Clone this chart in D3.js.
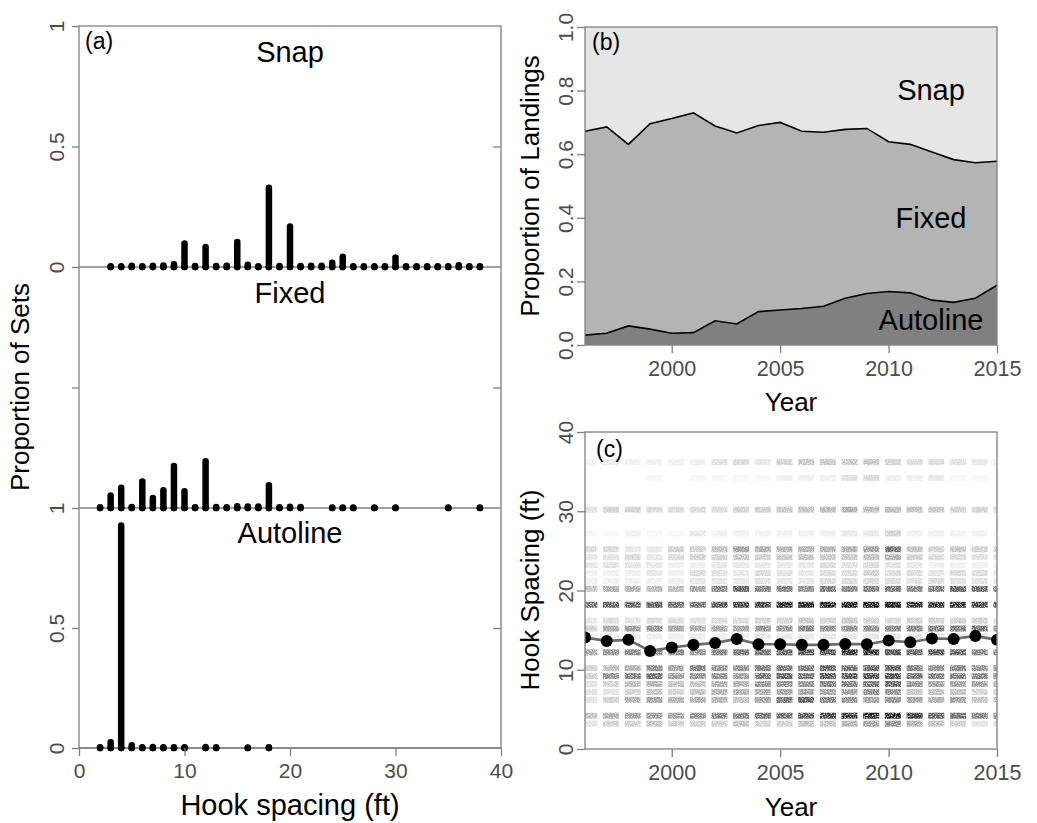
<!DOCTYPE html>
<html><head><meta charset="utf-8">
<script src="https://cdn.jsdelivr.net/npm/d3@7"></script>
<style>
body{margin:0;background:#fff}
svg{display:block;font-family:"Liberation Sans",Arial,Helvetica,sans-serif}
</style>
</head><body>
<svg id="chart" width="1037" height="823"></svg>
<script>
// ---------------- DATA ----------------
// Panel (a): proportion of sets by hook spacing (ft)
const snapSpacing = [3,4,5,6,7,8,9,10,11,12,13,14,15,16,17,18,19,20,21,22,23,24,25,26,27,28,29,30,31,32,33,34,35,36,37,38];
const snapProp    = [0.003,0.003,0.005,0.003,0.005,0.006,0.011,0.098,0.004,0.083,0.004,0.005,0.104,0.009,0.003,0.329,0.004,0.168,0.004,0.005,0.005,0.018,0.043,0.003,0.003,0.003,0.003,0.039,0.003,0.003,0.003,0.003,0.003,0.007,0.003,0.003];
const fixedSpacing = [2,3,4,5,6,7,8,9,10,11,12,13,14,15,16,17,18,19,20,21,24,25,26,28,30,35,38];
const fixedProp    = [0.003,0.052,0.084,0.004,0.110,0.041,0.074,0.174,0.070,0.003,0.194,0.004,0.003,0.007,0.006,0.006,0.094,0.003,0.005,0.004,0.002,0.002,0.002,0.002,0.002,0.002,0.002];
const autoSpacing = [2,3,4,5,6,7,8,9,10,12,13,16,18];
const autoProp    = [0.003,0.024,0.927,0.011,0.003,0.004,0.003,0.003,0.003,0.004,0.003,0.002,0.003];

// Panel (b): proportion of landings by gear type
const years = [1996,1997,1998,1999,2000,2001,2002,2003,2004,2005,2006,2007,2008,2009,2010,2011,2012,2013,2014,2015];
const autolineShare = [0.031,0.037,0.060,0.050,0.037,0.039,0.076,0.066,0.105,0.110,0.115,0.122,0.147,0.162,0.168,0.164,0.141,0.134,0.147,0.188];
const fixedShare    = [0.641,0.649,0.571,0.646,0.675,0.691,0.613,0.601,0.585,0.590,0.557,0.547,0.531,0.519,0.471,0.467,0.466,0.449,0.426,0.390];
const snapShare     = [0.328,0.314,0.369,0.304,0.288,0.270,0.311,0.333,0.310,0.300,0.328,0.331,0.322,0.319,0.361,0.369,0.393,0.417,0.427,0.422];

// Panel (c): mean hook spacing by year, and density of sets (shade) per spacing row
const meanSpacing = [14.06,13.64,13.77,12.38,12.80,13.14,13.39,13.89,13.22,13.22,13.14,13.14,13.26,13.22,13.68,13.47,13.94,13.89,14.27,13.77];
const heatSpacing = [36,34,30,27,25,24,23,22,21,20,18,16,15,14,12,10,9,8,7,6,4,3];
const heatShade = [
 [0.04,0.07,0.05,0.05,0.05,0.05,0.10,0.12,0.08,0.15,0.18,0.18,0.18,0.18,0.15,0.12,0.12,0.10,0.08,0.05],
 [0.00,0.00,0.00,0.03,0.00,0.03,0.03,0.03,0.03,0.05,0.05,0.05,0.10,0.12,0.05,0.05,0.08,0.03,0.03,0.00],
 [0.10,0.15,0.15,0.12,0.12,0.12,0.12,0.15,0.15,0.18,0.20,0.22,0.25,0.22,0.22,0.20,0.18,0.15,0.15,0.12],
 [0.03,0.03,0.05,0.03,0.03,0.08,0.05,0.05,0.05,0.05,0.05,0.05,0.08,0.08,0.15,0.05,0.05,0.05,0.05,0.03],
 [0.12,0.12,0.08,0.08,0.15,0.15,0.20,0.30,0.25,0.25,0.25,0.25,0.25,0.30,0.45,0.20,0.15,0.18,0.15,0.15],
 [0.08,0.10,0.12,0.08,0.12,0.15,0.15,0.18,0.15,0.18,0.20,0.18,0.18,0.20,0.25,0.15,0.12,0.12,0.10,0.10],
 [0.08,0.10,0.10,0.08,0.05,0.05,0.08,0.08,0.08,0.08,0.08,0.12,0.10,0.12,0.10,0.08,0.05,0.05,0.05,0.05],
 [0.05,0.05,0.05,0.08,0.05,0.12,0.10,0.08,0.12,0.10,0.08,0.12,0.12,0.15,0.12,0.12,0.10,0.12,0.12,0.08],
 [0.05,0.05,0.05,0.05,0.05,0.08,0.08,0.08,0.10,0.08,0.08,0.12,0.12,0.12,0.12,0.10,0.12,0.10,0.10,0.08],
 [0.20,0.25,0.25,0.22,0.22,0.28,0.38,0.50,0.40,0.40,0.35,0.42,0.38,0.40,0.45,0.38,0.42,0.50,0.48,0.40],
 [0.45,0.50,0.50,0.50,0.45,0.45,0.55,0.60,0.60,0.70,0.68,0.70,0.72,0.72,0.72,0.65,0.65,0.65,0.60,0.50],
 [0.08,0.12,0.10,0.12,0.12,0.10,0.12,0.12,0.15,0.15,0.18,0.15,0.18,0.15,0.12,0.15,0.15,0.15,0.15,0.10],
 [0.15,0.28,0.32,0.35,0.28,0.28,0.28,0.30,0.35,0.35,0.38,0.35,0.35,0.35,0.38,0.38,0.42,0.42,0.45,0.30],
 [0.05,0.06,0.06,0.06,0.06,0.06,0.06,0.06,0.08,0.08,0.08,0.08,0.08,0.08,0.08,0.08,0.08,0.08,0.08,0.06],
 [0.28,0.35,0.38,0.38,0.38,0.35,0.40,0.45,0.45,0.50,0.55,0.55,0.65,0.65,0.55,0.50,0.55,0.50,0.40,0.35],
 [0.15,0.20,0.25,0.35,0.30,0.42,0.35,0.35,0.40,0.42,0.42,0.50,0.45,0.50,0.50,0.40,0.35,0.40,0.35,0.35],
 [0.15,0.35,0.40,0.45,0.30,0.35,0.35,0.30,0.45,0.50,0.45,0.55,0.55,0.55,0.55,0.45,0.40,0.40,0.40,0.35],
 [0.10,0.15,0.20,0.25,0.20,0.20,0.25,0.25,0.35,0.35,0.35,0.40,0.40,0.45,0.50,0.35,0.30,0.30,0.30,0.25],
 [0.10,0.10,0.15,0.20,0.15,0.20,0.25,0.25,0.25,0.30,0.30,0.30,0.30,0.35,0.35,0.20,0.20,0.20,0.15,0.15],
 [0.10,0.15,0.25,0.30,0.25,0.25,0.25,0.20,0.30,0.45,0.50,0.40,0.35,0.30,0.35,0.30,0.25,0.30,0.20,0.20],
 [0.20,0.25,0.30,0.32,0.30,0.35,0.40,0.40,0.45,0.45,0.50,0.60,0.65,0.70,0.72,0.60,0.50,0.45,0.40,0.35],
 [0.10,0.15,0.15,0.20,0.15,0.15,0.15,0.20,0.15,0.15,0.20,0.20,0.25,0.30,0.35,0.25,0.20,0.15,0.10,0.10]
];

// Tick labels
const hookTicks = [0,10,20,30,40];
const propTicksA = [0,0.5,1];
const yearTicks = [2000,2005,2010,2015];
const landTicks = [0,0.2,0.4,0.6,0.8,1.0];
const spacingTicks = [0,10,20,30,40];

// ---------------- DRAWING ----------------
const svg = d3.select("#chart");
const AXC = "#808080", TXC = "#4d4d4d";
const defs = svg.append("defs");

function styleAxis(g, fs){
  g.select(".domain").remove();
  g.selectAll(".tick line").attr("stroke", AXC).attr("stroke-width", 1.3);
  g.selectAll(".tick text").attr("fill", TXC).attr("font-size", fs).attr("font-family","Liberation Sans, Arial, sans-serif");
}
function rotateYLabels(g, off){
  g.selectAll(".tick text").attr("x", null).attr("dy", "0.36em")
   .attr("text-anchor", "middle").attr("transform", `translate(${off},0) rotate(-90)`);
}
function frame(x0,y0,x1,y1){
  svg.append("rect").attr("x",x0).attr("y",y0).attr("width",x1-x0).attr("height",y1-y0)
    .attr("fill","none").attr("stroke",AXC).attr("stroke-width",1.3);
}
function label(txt,x,y,fs,anchor,color,rot){
  const t = svg.append("text").attr("x",x).attr("y",y).attr("font-size",fs)
    .attr("text-anchor",anchor||"middle").attr("fill",color||"#000").text(txt);
  if(rot) t.attr("transform",`rotate(-90,${x},${y})`);
  return t;
}

// ===== Panel (a) =====
const xA = d3.scaleLinear().domain([0,40]).range([79,501]);
const subA = [
  {name:"Snap",     sp:snapSpacing,  pr:snapProp,  y:d3.scaleLinear().domain([0,1]).range([267,26]),  ticks:propTicksA, lab:true, ly:62},
  {name:"Fixed",    sp:fixedSpacing, pr:fixedProp, y:d3.scaleLinear().domain([0,1]).range([508,267]), ticks:[0.5], lab:false, ly:303},
  {name:"Autoline", sp:autoSpacing,  pr:autoProp,  y:d3.scaleLinear().domain([0,1]).range([748,508]), ticks:propTicksA, lab:true, ly:543}
];
frame(79,26,501,748);
subA.forEach(p=>{
  svg.append("line").attr("x1",xA(0)).attr("x2",xA(40)).attr("y1",p.y(0)).attr("y2",p.y(0))
    .attr("stroke",AXC).attr("stroke-width",1.5);
  const gl = svg.append("g").attr("transform","translate(79,0)")
    .call(d3.axisLeft(p.y).tickValues(p.ticks).tickSize(7).tickFormat(d=>p.lab?String(d):""));
  styleAxis(gl, 21); rotateYLabels(gl, -23);
  const gr = svg.append("g").attr("transform","translate(501,0)")
    .call(d3.axisLeft(p.y).tickValues([0.5]).tickSize(8).tickFormat(""));
  styleAxis(gr, 21);
  const data = p.sp.map((s,i)=>({s, v:p.pr[i]}));
  svg.append("g").selectAll("line").data(data).join("line")
    .attr("x1",d=>xA(d.s)).attr("x2",d=>xA(d.s))
    .attr("y1",d=>p.y(0)).attr("y2",d=>p.y(d.v))
    .attr("stroke","#000").attr("stroke-width",6.5).attr("stroke-linecap","round");
  svg.append("g").selectAll("circle").data(data).join("circle")
    .attr("cx",d=>xA(d.s)).attr("cy",p.y(0)).attr("r",3.3).attr("fill","#000");
  label(p.name, 290, p.ly, 29);
});
const gxA = svg.append("g").attr("transform","translate(0,748)")
  .call(d3.axisBottom(xA).tickValues(hookTicks).tickSize(8).tickPadding(7).tickFormat(d3.format("d")));
styleAxis(gxA, 21);
label("(a)", 85, 49, 23, "start");
label("Hook spacing (ft)", 290, 815, 29);
label("Proportion of Sets", 29, 387, 26, "middle", "#000", true);

// ===== Panel (b) =====
const xB = d3.scaleLinear().domain([1996,2015]).range([585,997]);
const yB = d3.scaleLinear().domain([0,1]).range([345,27]);
const rowsB = years.map((yr,i)=>({year:yr, Autoline:autolineShare[i], Fixed:fixedShare[i], Snap:snapShare[i]}));
const stack = d3.stack().keys(["Autoline","Fixed","Snap"])(rowsB);
const fillB = {Autoline:"#808080", Fixed:"#b4b4b4", Snap:"#e6e6e6"};
const area = d3.area().x(d=>xB(d.data.year)).y0(d=>yB(d[0])).y1(d=>yB(d[1]));
svg.append("g").selectAll("path").data(stack).join("path")
  .attr("d",area).attr("fill",d=>fillB[d.key]);
const lineTop = d3.line().x(d=>xB(d.data.year)).y(d=>yB(d[1]));
svg.append("g").selectAll("path").data(stack.slice(0,2)).join("path")
  .attr("d",lineTop).attr("fill","none").attr("stroke","#000").attr("stroke-width",1.6);
frame(585,27,997,345);
const gyB = svg.append("g").attr("transform","translate(585,0)")
  .call(d3.axisLeft(yB).tickValues(landTicks).tickSize(8).tickFormat(d3.format(".1f")));
styleAxis(gyB, 21); rotateYLabels(gyB, -20);
const gxB = svg.append("g").attr("transform","translate(0,345)")
  .call(d3.axisBottom(xB).tickValues(yearTicks).tickSize(8).tickPadding(8).tickFormat(d3.format("d")));
styleAxis(gxB, 21.5);
label("(b)", 592, 50, 23, "start");
label("Snap", 931, 100, 29);
label("Fixed", 931, 228, 29);
label("Autoline", 931, 330, 29);
label("Year", 791, 411, 26);
label("Proportion of Landings", 539, 186, 26, "middle", "#000", true);

// ===== Panel (c) =====
const yC = d3.scaleLinear().domain([0,40]).range([749,432]);
defs.append("clipPath").attr("id","clipC").append("rect")
  .attr("x",585).attr("y",432).attr("width",412).attr("height",317);
const flt = defs.append("filter").attr("id","speck").attr("filterUnits","userSpaceOnUse")
  .attr("x",585).attr("y",432).attr("width",412).attr("height",317);
flt.append("feTurbulence").attr("type","fractalNoise").attr("baseFrequency","0.9").attr("numOctaves",2).attr("seed",7).attr("result","n");
flt.append("feColorMatrix").attr("in","n").attr("type","matrix")
  .attr("values","0 0 0 0 1  0 0 0 0 1  0 0 0 0 1  2.6 0 0 0 -0.45").attr("result","m");
flt.append("feComposite").attr("in","SourceGraphic").attr("in2","m").attr("operator","arithmetic")
  .attr("k1",1).attr("k2",0).attr("k3",0).attr("k4",0);
const heatCells = [];
heatSpacing.forEach((s,r)=>years.forEach((yr,i)=>{ if(heatShade[r][i]>0) heatCells.push({s, yr, v:heatShade[r][i]}); }));
const gHeat = svg.append("g").attr("clip-path","url(#clipC)").append("g").attr("filter","url(#speck)");
gHeat.selectAll("rect").data(heatCells).join("rect")
  .attr("x",d=>xB(d.yr-0.17)).attr("width",d=>xB(d.yr+0.57)-xB(d.yr-0.17))
  .attr("y",d=>yC(d.s+0.58)).attr("height",d=>yC(d.s-0.18)-yC(d.s+0.58))
  .attr("fill","#000").attr("fill-opacity",d=>Math.min(1,d.v*1.3));
const meanData = years.map((yr,i)=>({yr, v:meanSpacing[i]}));
const gMean = svg.append("g").attr("clip-path","url(#clipC)");
gMean.append("path").datum(meanData)
  .attr("d",d3.line().x(d=>xB(d.yr)).y(d=>yC(d.v)))
  .attr("fill","none").attr("stroke","#6b6b6b").attr("stroke-width",2.6);
gMean.selectAll("circle").data(meanData).join("circle")
  .attr("cx",d=>xB(d.yr)).attr("cy",d=>yC(d.v)).attr("r",6).attr("fill","#000");
frame(585,432,997,749);
const gyC = svg.append("g").attr("transform","translate(585,0)")
  .call(d3.axisLeft(yC).tickValues(spacingTicks).tickSize(8).tickFormat(d3.format("d")));
styleAxis(gyC, 21); rotateYLabels(gyC, -20);
const gxC = svg.append("g").attr("transform","translate(0,749)")
  .call(d3.axisBottom(xB).tickValues(yearTicks).tickSize(8).tickPadding(8).tickFormat(d3.format("d")));
styleAxis(gxC, 21.5);
label("(c)", 596, 457, 23, "start");
label("Year", 791, 816, 26);
label("Hook Spacing (ft)", 539, 590, 26, "middle", "#000", true);
</script>
</body></html>
